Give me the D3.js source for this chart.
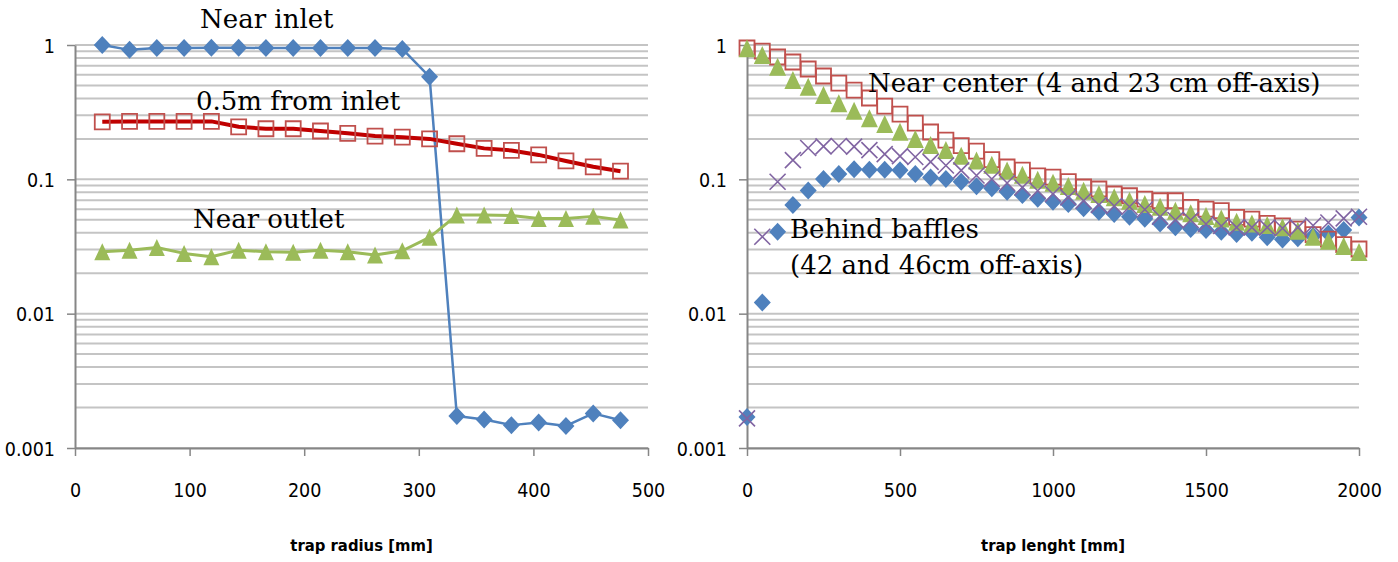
<!DOCTYPE html>
<html><head><meta charset="utf-8">
<script src="https://cdn.jsdelivr.net/npm/d3@7"></script>
<style>html,body{margin:0;padding:0;background:#fff;} svg{display:block}
.tk{font-family:'DejaVu Sans Condensed','DejaVu Sans',sans-serif;font-stretch:condensed;}
</style>
</head><body>
<svg id="c" width="1398" height="562"></svg>
<script>
// ---- Left chart data ----
const radius = [23.8, 47.6, 71.4, 95.2, 119.0, 142.8, 166.6, 190.4, 214.2, 238.0, 261.8, 285.6, 309.4, 333.2, 357.0, 380.8, 404.6, 428.4, 452.2, 476.0];
const nearInlet = [1.0, 0.92, 0.95, 0.95, 0.955, 0.955, 0.95, 0.95, 0.95, 0.95, 0.95, 0.935, 0.58, 0.00173, 0.00163, 0.00148, 0.00155, 0.00146, 0.00181, 0.00161];
const halfMeter = [0.268, 0.27, 0.27, 0.27, 0.27, 0.246, 0.238, 0.238, 0.229, 0.22, 0.21, 0.206, 0.2, 0.184, 0.17, 0.164, 0.152, 0.137, 0.124, 0.115];
const nearOutlet = [0.0289, 0.0297, 0.0311, 0.0281, 0.0265, 0.0297, 0.0289, 0.0287, 0.0297, 0.0289, 0.0273, 0.0294, 0.037, 0.0542, 0.0542, 0.0538, 0.0512, 0.0512, 0.053, 0.0498];

// ---- Right chart data ----
const lengthMm = [0, 50, 100, 150, 200, 250, 300, 350, 400, 450, 500, 550, 600, 650, 700, 750, 800, 850, 900, 950, 1000, 1050, 1100, 1150, 1200, 1250, 1300, 1350, 1400, 1450, 1500, 1550, 1600, 1650, 1700, 1750, 1800, 1850, 1900, 1950, 2000];
const baffleA = [0.0017, 0.0121, 0.0407, 0.0644, 0.0826, 0.1005, 0.1095, 0.119, 0.118, 0.118, 0.1167, 0.1095, 0.1031, 0.1005, 0.096, 0.0887, 0.0857, 0.0809, 0.0764, 0.0718, 0.0681, 0.0655, 0.0608, 0.0574, 0.0552, 0.0527, 0.0508, 0.047, 0.0439, 0.0426, 0.0419, 0.0407, 0.0392, 0.04, 0.037, 0.0357, 0.0364, 0.0378, 0.0396, 0.0419, 0.052];
const centerA = [0.95, 0.90, 0.814, 0.747, 0.663, 0.588, 0.521, 0.462, 0.403, 0.351, 0.306, 0.262, 0.225, 0.196, 0.178, 0.162, 0.140, 0.1235, 0.117, 0.106, 0.104, 0.096, 0.0877, 0.0847, 0.0778, 0.0755, 0.0713, 0.0693, 0.0693, 0.0619, 0.0601, 0.0584, 0.0521, 0.0506, 0.047, 0.0451, 0.0426, 0.0387, 0.0359, 0.0326, 0.0303];
const centerB = [0.945, 0.842, 0.689, 0.549, 0.489, 0.424, 0.368, 0.324, 0.2846, 0.258, 0.226, 0.2, 0.18, 0.165, 0.150, 0.138, 0.1285, 0.1165, 0.108, 0.0994, 0.0944, 0.0891, 0.0822, 0.0778, 0.0734, 0.0693, 0.0655, 0.0625, 0.0584, 0.0558, 0.0533, 0.0512, 0.0483, 0.047, 0.0457, 0.0439, 0.0414, 0.0374, 0.0349, 0.0319, 0.0288];
const baffleB = [0.00166, 0.0374, 0.096, 0.139, 0.171, 0.176, 0.177, 0.175, 0.165, 0.154, 0.149, 0.1466, 0.135, 0.1267, 0.1167, 0.1067, 0.1005, 0.0939, 0.0869, 0.0822, 0.0778, 0.0734, 0.0693, 0.0644, 0.0633, 0.0625, 0.0596, 0.0527, 0.0498, 0.0498, 0.0465, 0.0449, 0.0439, 0.0439, 0.0439, 0.0432, 0.0439, 0.0453, 0.0477, 0.0512, 0.0527];

// ---- Ticks / labels ----
const yTicks = [0.001, 0.01, 0.1, 1];
const yTickLabels = ["0.001", "0.01", "0.1", "1"];
const leftXTicks = [0, 100, 200, 300, 400, 500];
const rightXTicks = [0, 500, 1000, 1500, 2000];
const leftTitle = "trap radius [mm]";
const rightTitle = "trap lenght [mm]";

const svg = d3.select("#c");
svg.append("rect").attr("width", 1398).attr("height", 562).attr("fill", "#fff");

const SERIF = "'DejaVu Serif', serif";
const BLUE = "#4f81bd", RED = "#c0504d", GREEN = "#9bbb59", PURPLE = "#8064a2", DARKRED = "#c00000";
const AXIS = "#868686", GRID = "#c4c4c4";

const plotTop = 45, plotBottom = 448;

function panel(x0, x1, xDomain, xTicks, title) {
  const x = d3.scaleLinear().domain(xDomain).range([x0, x1]);
  const y = d3.scaleLog().domain([0.001, 1]).range([plotBottom, plotTop]);
  const g = svg.append("g");
  g.append("g").selectAll("line").data(y.ticks()).join("line")
    .attr("x1", x0).attr("x2", x1)
    .attr("y1", d => y(d)).attr("y2", d => y(d))
    .attr("stroke", GRID).attr("stroke-width", 2);
  const ya = g.append("g").attr("transform", `translate(${x0},0)`)
    .call(d3.axisLeft(y).tickValues(yTicks).tickFormat((d, i) => yTickLabels[i]).tickSize(8).tickSizeOuter(0).tickPadding(12));
  const xa = g.append("g").attr("transform", `translate(0,${plotBottom})`)
    .call(d3.axisBottom(x).tickValues(xTicks).tickFormat(d => String(d)).tickSize(8).tickSizeOuter(0).tickPadding(27));
  [ya, xa].forEach(a => {
    a.attr("font-family", null).attr("font-size", null);
    a.select(".domain").attr("stroke", AXIS).attr("stroke-width", 2);
    a.selectAll(".tick line").attr("stroke", AXIS).attr("stroke-width", 1.5);
    a.selectAll("text").attr("class", "tk").attr("font-size", 19.5).attr("fill", "#000");
  });
  ya.selectAll("text").attr("dy", "0.36em");
  g.append("text").attr("class", "tk").attr("x", (x0 + x1) / 2).attr("y", 551).attr("text-anchor", "middle")
    .attr("font-weight", "bold").attr("font-size", 16.5).text(title);
  return { x, y, g };
}

function diamond(w, h) { return `M0,${-h}L${w},0L0,${h}L${-w},0Z`; }
function square(s) { return `M${-s},${-s}H${s}V${s}H${-s}Z`; }
function tri(w, h) { return `M0,${-h}L${w},${h}L${-w},${h}Z`; }
function cross(s) { return `M${-s},${-s}L${s},${s}M${s},${-s}L${-s},${s}`; }

function markers(p, xs, ys, path, attrs) {
  const sel = p.g.append("g").selectAll("path").data(ys).join("path")
    .attr("transform", (d, i) => `translate(${p.x(xs[i])},${p.y(d)})`)
    .attr("d", path);
  Object.entries(attrs).forEach(([k, v]) => sel.attr(k, v));
}
function line(p, xs, ys, color, width) {
  p.g.append("path").datum(ys)
    .attr("d", d3.line().x((d, i) => p.x(xs[i])).y(d => p.y(d)))
    .attr("fill", "none").attr("stroke", color).attr("stroke-width", width).attr("stroke-linejoin", "round");
}

// ---- Left panel ----
const L = panel(75, 648, [0, 500], leftXTicks, leftTitle);
line(L, radius, nearInlet, BLUE, 2.5);
markers(L, radius, nearInlet, diamond(8.5, 9), { fill: BLUE });
line(L, radius, halfMeter, DARKRED, 4);
markers(L, radius, halfMeter, square(7.5), { fill: "none", stroke: RED, "stroke-width": 1.8 });
line(L, radius, nearOutlet, GREEN, 3);
markers(L, radius, nearOutlet, tri(8, 8.5), { fill: GREEN });

function label(x, y, t) {
  svg.append("text").attr("x", x).attr("y", y).attr("font-family", SERIF).attr("font-size", 26).attr("fill", "#000").text(t);
}
label(200, 28, "Near inlet");
label(196, 110, "0.5m from inlet");
label(193, 228, "Near outlet");

// ---- Right panel ----
const R = panel(747, 1359, [0, 2000], rightXTicks, rightTitle);
markers(R, lengthMm, baffleA, diamond(8.5, 9), { fill: BLUE });
markers(R, lengthMm, centerA, square(7.5), { fill: "none", stroke: RED, "stroke-width": 1.8 });
markers(R, lengthMm, centerB, tri(8.5, 9), { fill: GREEN });
markers(R, lengthMm, baffleB, cross(8), { fill: "none", stroke: PURPLE, "stroke-width": 1.6 });

label(868, 92, "Near center (4 and 23 cm off-axis)");
label(790, 238, "Behind baffles");
label(790, 274, "(42 and 46cm off-axis)");
</script>
</body></html>
